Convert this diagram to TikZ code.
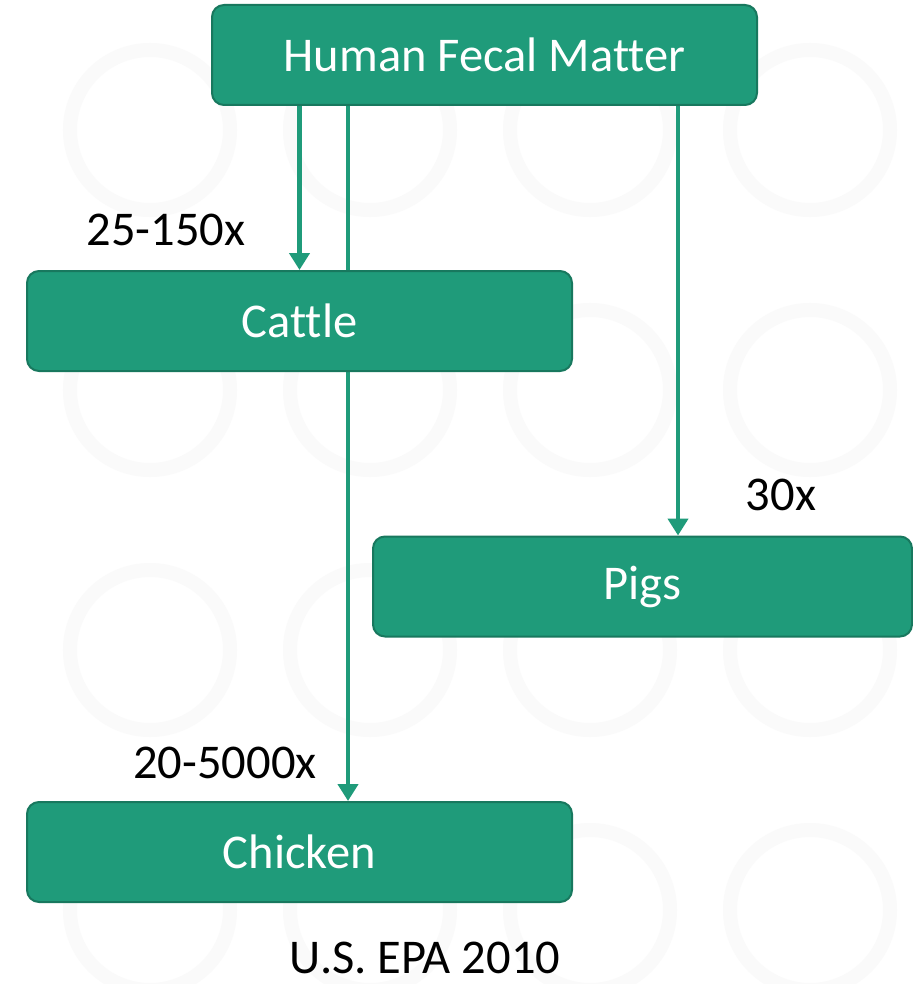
\documentclass[tikz,border=0pt]{standalone}
\usepackage{fontspec}
\setmainfont{Carlito}[Ligatures=NoCommon]
\usetikzlibrary{arrows.meta}
\definecolor{boxgreen}{RGB}{31,155,122}
\definecolor{boxedge}{RGB}{24,120,94}
\begin{document}
\begin{tikzpicture}[x=1pt,y=-1pt,
  box/.style={rectangle, rounded corners=12pt, fill=boxgreen, draw=boxedge, line width=2pt,
    minimum height=100pt, inner sep=0pt, text=white, font=\fontsize{48.5}{58}\selectfont},
  lbl/.style={inner sep=0pt, text=black, font=\fontsize{48.5}{58}\selectfont},
  arr/.style={draw=boxgreen, line width=4.5pt, -{Triangle[length=17pt,width=20pt]}},
  ring/.style={draw=black!2, line width=14pt}]
\useasboundingbox (0,0) rectangle (912,984);
\fill[white] (0,0) rectangle (912,984);
\foreach \cx in {150,370,590,810}{
  \foreach \cy in {130,390,650,910}{
    \draw[ring] (\cx,\cy) circle (80pt);
  }
}
\coordinate (c1) at (348,0);
\coordinate (c2) at (678,0);
\node[box, minimum width=545pt] (hfm) at (484.5,55) {Human Fecal Matter};
\node[box, minimum width=545pt] (chicken) at (299.5,852) {Chicken};
\draw[arr] (c1 |- hfm.south) -- (c1 |- chicken.north);
\node[box, minimum width=545pt] (cattle) at (299.5,321) {Cattle};
\node[box, minimum width=539pt] (pigs) at (642.5,586.5) {Pigs};
\draw[arr] (cattle.north |- hfm.south) -- (cattle.north);
\draw[arr] (c2 |- hfm.south) -- (c2 |- pigs.north);
\node[lbl] (l1) at (166,230) {25-150x};
\node[lbl] (l2) at (781,495) {30x};
\node[lbl] (l3) at (225,763) {20-5000x};
\node[lbl] (src) at (425,958) {U.S. EPA 2010};
\end{tikzpicture}
\end{document}
